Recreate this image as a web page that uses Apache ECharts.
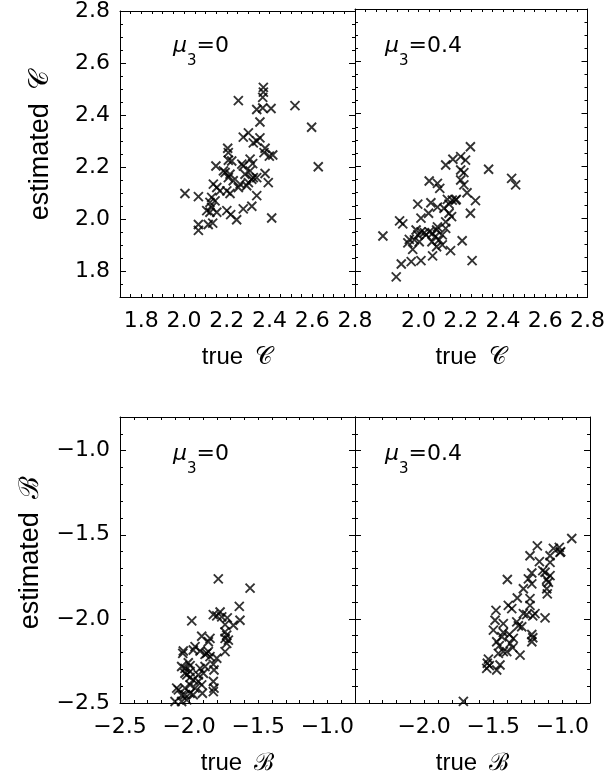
<!DOCTYPE html>
<html><head><meta charset="utf-8">
<script src="https://cdn.jsdelivr.net/npm/echarts@6/dist/echarts.min.js"></script>
<style>html,body{margin:0;padding:0;background:#fff}#c{width:608px;height:776px}</style>
</head><body><div id="c"></div>
<script>
// ---- data: panel (a) true vs estimated C, mu3 = 0
const cTrueMu0 = [2.371,2.371,2.368,2.254,2.519,2.340,2.368,2.407,2.597,2.355,2.301,2.277,2.355,2.324,2.340,2.204,2.207,2.379,2.374,2.399,2.415,2.207,2.223,2.309,2.321,2.149,2.270,2.277,2.628,2.184,2.192,2.215,2.207,2.309,2.285,2.379,2.394,2.324,2.317,2.340,2.230,2.137,2.153,2.168,2.200,2.215,2.254,2.262,2.293,2.301,2.004,2.067,2.129,2.121,2.145,2.340,2.129,2.106,2.121,2.153,2.200,2.218,2.246,2.277,2.317,2.410,2.067,2.067,2.113,2.134];
const cEstMu0 = [2.506,2.488,2.468,2.455,2.436,2.421,2.427,2.425,2.353,2.373,2.331,2.315,2.312,2.293,2.300,2.272,2.255,2.272,2.255,2.242,2.246,2.226,2.223,2.230,2.213,2.204,2.211,2.204,2.201,2.185,2.179,2.172,2.159,2.185,2.172,2.175,2.140,2.159,2.153,2.159,2.147,2.134,2.121,2.108,2.108,2.098,2.121,2.134,2.128,2.140,2.098,2.086,2.083,2.064,2.070,2.090,2.045,2.032,2.026,2.026,2.032,2.017,1.997,2.039,2.049,2.004,1.979,1.956,1.979,1.984];
// ---- panel (b) C, mu3 = 0.4
const cTrueMu04 = [2.246,2.200,2.223,2.163,2.129,2.332,2.200,2.215,2.441,2.460,2.051,2.090,2.101,2.200,2.215,2.230,2.270,2.179,2.160,2.137,2.145,2.059,1.997,2.090,2.121,2.048,2.012,2.145,2.157,2.246,1.911,1.926,1.832,1.989,2.012,2.028,2.051,2.067,2.086,2.090,2.129,1.957,1.981,1.950,1.973,2.079,2.113,2.086,2.113,2.152,2.207,2.067,2.012,1.966,1.919,2.254,1.895,2.004,2.036,2.098,2.064,2.176,2.129,1.997];
const cEstMu04 = [2.274,2.236,2.223,2.226,2.204,2.188,2.185,2.175,2.153,2.128,2.143,2.134,2.115,2.147,2.128,2.098,2.068,2.073,2.070,2.073,2.055,2.060,2.055,2.043,2.039,2.020,2.001,2.020,2.007,2.020,1.991,1.979,1.933,1.956,1.949,1.946,1.949,1.943,1.956,1.968,1.962,1.920,1.918,1.907,1.882,1.930,1.937,1.892,1.899,1.877,1.915,1.857,1.839,1.835,1.826,1.839,1.777,1.911,1.937,1.918,1.911,2.070,1.987,1.937];
// ---- panel (c) true vs estimated B, mu3 = 0
const bTrueMu0 = [-1.789,-1.559,-1.637,-1.981,-1.825,-1.800,-1.776,-1.764,-1.724,-1.632,-1.680,-1.740,-1.728,-1.740,-1.716,-1.728,-1.740,-1.909,-1.849,-1.861,-2.042,-2.046,-1.957,-1.970,-1.921,-1.885,-1.861,-1.849,-1.800,-1.825,-1.820,-1.885,-1.921,-2.054,-2.030,-1.993,-2.030,-2.017,-1.993,-1.970,-1.933,-1.909,-1.825,-1.820,-1.993,-1.957,-2.030,-2.090,-2.078,-2.030,-2.054,-2.017,-2.102,-1.740,-1.873,-1.993,-1.933,-1.897,-2.006,-2.054,-1.993,-1.970,-1.904,-1.825];
const bEstMu0 = [-1.762,-1.817,-1.926,-2.012,-1.975,-1.982,-1.959,-1.988,-1.994,-2.008,-2.038,-2.034,-2.097,-2.116,-2.126,-2.146,-2.195,-2.103,-2.116,-2.136,-2.191,-2.205,-2.165,-2.185,-2.191,-2.211,-2.195,-2.224,-2.234,-2.270,-2.304,-2.283,-2.294,-2.283,-2.294,-2.278,-2.323,-2.333,-2.348,-2.363,-2.372,-2.392,-2.372,-2.412,-2.392,-2.412,-2.412,-2.412,-2.422,-2.451,-2.455,-2.481,-2.491,-2.077,-2.205,-2.313,-2.333,-2.323,-2.261,-2.491,-2.442,-2.451,-2.442,-2.432];
// ---- panel (d) B, mu3 = 0.4
const bTrueMu04 = [-0.932,-1.181,-1.022,-1.012,-1.065,-1.234,-1.089,-1.166,-1.089,-1.142,-1.125,-1.221,-1.113,-1.101,-1.398,-1.246,-1.221,-1.282,-1.113,-1.109,-1.326,-1.234,-1.391,-1.366,-1.234,-1.480,-1.282,-1.258,-1.198,-1.214,-1.125,-1.487,-1.427,-1.330,-1.318,-1.294,-1.499,-1.427,-1.383,-1.221,-1.214,-1.221,-1.475,-1.456,-1.378,-1.359,-1.427,-1.463,-1.402,-1.306,-1.535,-1.543,-1.547,-1.451,-1.475,-1.716,-1.355,-1.438,-1.528,-1.089,-1.017];
const bEstMu04 = [-1.522,-1.566,-1.575,-1.601,-1.581,-1.625,-1.625,-1.660,-1.664,-1.713,-1.723,-1.727,-1.766,-1.782,-1.766,-1.762,-1.792,-1.821,-1.821,-1.851,-1.876,-1.880,-1.920,-1.939,-1.920,-1.949,-1.969,-1.975,-1.969,-1.982,-1.994,-2.008,-2.028,-2.018,-2.041,-2.047,-2.067,-2.081,-2.093,-2.093,-2.112,-2.136,-2.136,-2.159,-2.146,-2.171,-2.195,-2.205,-2.195,-2.215,-2.239,-2.264,-2.294,-2.274,-2.304,-2.490,-2.116,-2.106,-2.278,-1.743,-1.605];

// ---- tick labels
const cXLabelsLeft = [1.8, 2.0, 2.2, 2.4, 2.6, 2.8];
const cXLabelsRight = [2.0, 2.2, 2.4, 2.6, 2.8];
const cYLabels = [1.8, 2.0, 2.2, 2.4, 2.6, 2.8];
const bXLabelsLeft = [-2.5, -2.0, -1.5, -1.0];
const bXLabelsRight = [-2.0, -1.5, -1.0];
const bYLabels = [-2.5, -2.0, -1.5, -1.0];
const panelTitles = ['0', '0.4', '0', '0.4'];

const TICKFONT = '"DejaVu Sans", Verdana, sans-serif';
const NAMEFONT = '"Liberation Sans", Arial, Helvetica, sans-serif';
const fmt = v => v.toFixed(1).replace('-', '\u2212');

const grids = [
  {left: 120, top: 9, width: 235, height: 288},
  {left: 355, top: 9, width: 235, height: 288},
  {left: 120, top: 417, width: 235, height: 288},
  {left: 355, top: 417, width: 235, height: 288}
];

const panels = [
  {x: cTrueMu0, y: cEstMu0, range: [1.7, 2.8], minor: 0.05, xLabels: cXLabelsLeft, yLabels: cYLabels, showY: true, xName: 'true\u2002\uD835\uDC9E', yName: 'estimated\u2002\uD835\uDC9E', yGap: 66, yShift: 18},
  {x: cTrueMu04, y: cEstMu04, range: [1.7, 2.8], minor: 0.05, xLabels: cXLabelsRight, yLabels: cYLabels, showY: false, xName: 'true\u2002\uD835\uDC9E'},
  {x: bTrueMu0, y: bEstMu0, range: [-2.5, -0.8], minor: 0.1, xLabels: bXLabelsLeft, yLabels: bYLabels, showY: true, xName: 'true\u2002\u212C', yName: 'estimated\u2002\u212C', yGap: 76, yShift: 15},
  {x: bTrueMu04, y: bEstMu04, range: [-2.5, -0.8], minor: 0.1, xLabels: bXLabelsRight, yLabels: bYLabels, showY: false, xName: 'true\u2002\u212C'}
];

const xAxes = [], yAxes = [], series = [], titles = [];
const black = {color: '#000', width: 1};
panels.forEach((p, gi) => {
  const [mn, mx] = p.range;
  const xi = xAxes.length, yi = yAxes.length;
  xAxes.push({
    gridIndex: gi, type: 'value', min: mn, max: mx, interval: p.minor, position: 'bottom',
    axisLine: {show: true, onZero: false, lineStyle: black},
    axisTick: {show: true, inside: true, length: 3, lineStyle: black},
    axisLabel: {show: true, customValues: p.xLabels, formatter: fmt, fontSize: 22, color: '#000', fontFamily: TICKFONT, margin: 13},
    splitLine: {show: false},
    name: p.xName, nameLocation: 'middle', nameGap: 48,
    nameTextStyle: {fontSize: 24, color: '#000', fontFamily: NAMEFONT}
  });
  xAxes.push({
    gridIndex: gi, type: 'value', min: mn, max: mx, interval: p.minor, position: 'top',
    axisLine: {show: true, onZero: false, lineStyle: black},
    axisTick: {show: true, inside: true, length: 3, lineStyle: black},
    axisLabel: {show: false}, splitLine: {show: false}
  });
  const yMain = {
    gridIndex: gi, type: 'value', min: mn, max: mx, interval: p.minor, position: 'left',
    axisLine: {show: true, onZero: false, lineStyle: black},
    axisTick: {show: true, inside: true, length: 3, lineStyle: black},
    axisLabel: p.showY ? {show: true, customValues: p.yLabels, formatter: fmt, fontSize: 22, color: '#000', fontFamily: TICKFONT, margin: 10} : {show: false},
    splitLine: {show: false}
  };
  if (p.yName) {
    Object.assign(yMain, {name: p.yName, nameLocation: 'middle', nameGap: p.yGap, nameRotate: 90,
      nameTextStyle: {fontSize: 27, color: '#000', fontFamily: NAMEFONT, padding: [0, 0, 0, p.yShift]}});
  }
  yAxes.push(yMain);
  ['left', 'right'].forEach(pos => {
    yAxes.push({
      gridIndex: gi, type: 'value', min: mn, max: mx, position: pos,
      axisLine: {show: false},
      axisTick: {show: true, inside: true, length: 6, customValues: p.yLabels, lineStyle: black},
      axisLabel: {show: false}, splitLine: {show: false}
    });
  });
  yAxes.push({
    gridIndex: gi, type: 'value', min: mn, max: mx, interval: p.minor, position: 'right',
    axisLine: {show: true, onZero: false, lineStyle: black},
    axisTick: {show: true, inside: true, length: 3, lineStyle: black},
    axisLabel: {show: false}, splitLine: {show: false}
  });
  series.push({
    type: 'scatter', xAxisIndex: xi, yAxisIndex: yi,
    data: p.x.map((v, i) => [v, p.y[i]]),
    symbol: 'path://M0,0L10,10M10,0L0,10', symbolSize: 9,
    itemStyle: {color: 'rgba(0,0,0,0)', borderColor: '#000', borderWidth: 1.9},
    emphasis: {disabled: true}, silent: true
  });
  const g = grids[gi];
  titles.push({
    text: '{m|\u03BC}{s|3}{t|=' + panelTitles[gi] + '}',
    left: g.left + (gi % 2 === 0 ? 53 : 30), top: g.top + 26,
    padding: 0,
    textStyle: {
      fontWeight: 'normal',
      rich: {
        m: {fontSize: 22, fontFamily: TICKFONT, fontWeight: 'normal', color: '#000', fontStyle: 'italic', padding: [0, 0, 12, 0], verticalAlign: 'bottom'},
        s: {fontSize: 15, fontFamily: TICKFONT, fontWeight: 'normal', color: '#000', verticalAlign: 'bottom'},
        t: {fontSize: 22, fontFamily: TICKFONT, fontWeight: 'normal', color: '#000', padding: [0, 0, 12, 0], verticalAlign: 'bottom'}
      }
    }
  });
});

const chart = echarts.init(document.getElementById('c'), null, {renderer: 'canvas'});
chart.setOption({
  backgroundColor: '#fff',
  animation: false,
  title: titles,
  grid: grids,
  xAxis: xAxes,
  yAxis: yAxes,
  series: series
});
</script>
</body></html>
